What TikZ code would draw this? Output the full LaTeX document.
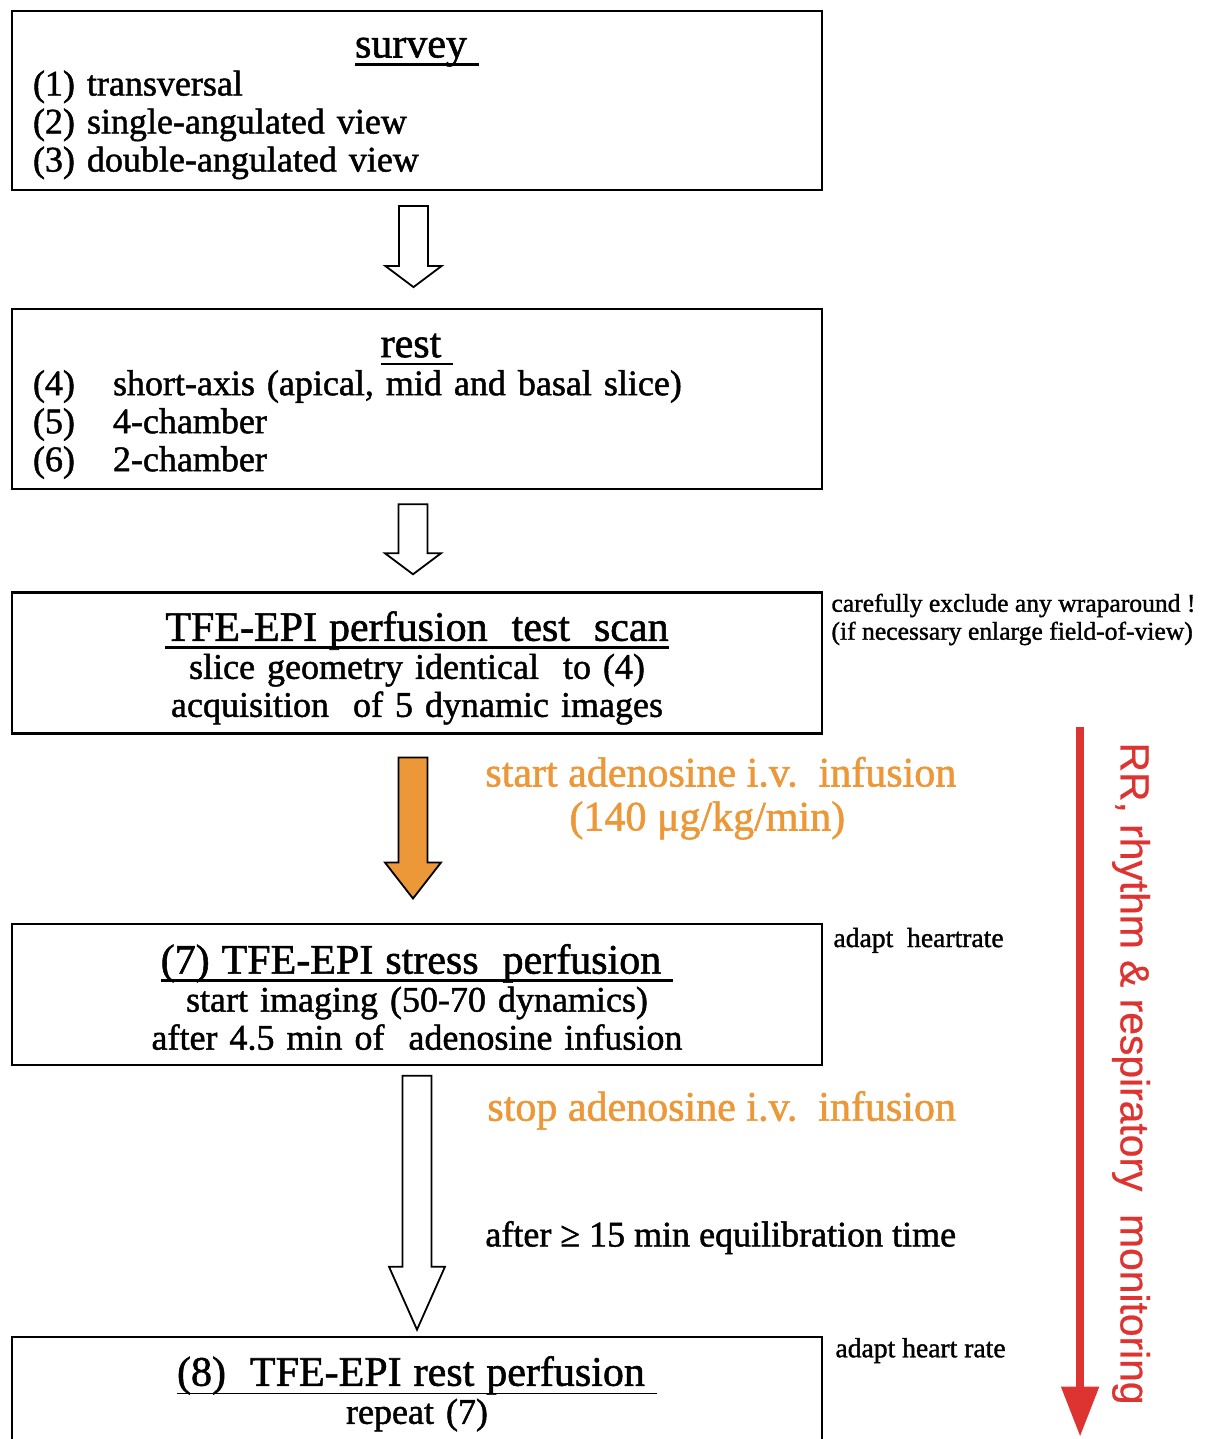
\documentclass[tikz,border=0pt]{standalone}
\usepackage{fontspec}
\setmainfont{Liberation Serif}[FakeBold=1.3]
\newfontfamily\monfont{Liberation Sans}[FakeBold=0.6]
\usetikzlibrary{positioning,calc,arrows.meta}
\definecolor{adenorange}{RGB}{236,152,56}
\definecolor{monred}{RGB}{221,52,50}

\newcommand{\titlefont}{\fontsize{21}{23}\selectfont}
\newcommand{\bodyfont}{\fontsize{18}{19}\selectfont}
% underline that runs just below the baseline
\newsavebox\titlebox
\newcommand{\titleline}[2][1.3pt]{\sbox\titlebox{#2}\rlap{\rule[-4pt]{\wd\titlebox}{#1}}\usebox\titlebox}
% hollow (or filled) block arrow: start, tip, head length, fill
\newcommand{\blockarrow}[4]{%
  \draw[line width=0.9pt, fill=#4] let \p1=(#1), \p2=(#2) in
    (\x1-7.25pt,\y1) -- (\x1+7.25pt,\y1) -- (\x1+7.25pt,\y2+#3) -- (\x1+14pt,\y2+#3)
    -- (\x1,\y2) -- (\x1-14pt,\y2+#3) -- (\x1-7.25pt,\y2+#3) -- cycle;}

\begin{document}
\begin{tikzpicture}
    \tikzstyle{stepbox} = [rectangle, draw, line width=1.1pt, text width=384pt, inner xsep=10.5pt, inner ysep=2pt, font=\bodyfont]
    \tikzstyle{note} = [anchor=north west, inner sep=0pt, align=left, font=\fontsize{12.8}{14}\selectfont]
    \tikzstyle{orangelabel} = [anchor=north west, inner sep=0pt, align=center, text=adenorange, font=\fontsize{21}{22}\selectfont]
    \tikzstyle{monitor} = [line width=4pt, draw=monred, -{Triangle[width=18pt,length=25pt]}]

    \useasboundingbox (-208.5pt,50.25pt) rectangle (395.5pt,-669.25pt);

    \node[stepbox, minimum height=89.5pt] (survey) at (0,0) {{\titlefont\centering\titleline{survey\ }\par}\raggedright (1) transversal\\(2) single-angulated view\\(3) double-angulated view\par\kern-8pt};
    \node[stepbox, minimum height=90pt, below=58.5pt of survey] (rest) {{\titlefont\centering\titleline{rest\ }\par}\raggedright \makebox[40pt][l]{(4)}short-axis (apical, mid and basal slice)\\\makebox[40pt][l]{(5)}4-chamber\\\makebox[40pt][l]{(6)}2-chamber\par\kern-7pt};
    \node[stepbox, minimum height=70.5pt, align=center, below=50.5pt of rest] (test) {{\titlefont\titleline{TFE-EPI perfusion\ \ test\ \ scan}\par}slice geometry identical\ \ to (4)\\acquisition\ \ of 5 dynamic images\par\kern-5pt};
    \node[stepbox, minimum height=70.5pt, align=center, below=94pt of test] (stress) {{\titlefont\titleline{(7) TFE-EPI stress\ \ perfusion\ }\par}start imaging (50-70 dynamics)\\after 4.5 min of\ \ adenosine infusion\par\kern-3pt};
    \node[stepbox, minimum height=54pt, align=center, below=135pt of stress] (final) {{\titlefont\titleline[0.5pt]{(8)\ \ TFE-EPI rest perfusion\ }\par}repeat (7)\par\kern-3pt};

    \node[note] (wrapnote) at ([xshift=4pt,yshift=-1pt]test.north east) {carefully exclude any wraparound !\\(if necessary enlarge field-of-view)};
    \node[note, font=\fontsize{13.8}{15}\selectfont] (hrnote1) at ([xshift=5pt,yshift=-2.5pt]stress.north east) {adapt\ \ heartrate};
    \node[note, font=\fontsize{13.8}{15}\selectfont] (hrnote2) at ([xshift=6pt,yshift=-1pt]final.north east) {adapt heart rate};

    \node[orangelabel] (startinf) at ([xshift=34pt,yshift=-11pt]test.south) {start adenosine i.v.\ \ infusion};
    \node[orangelabel, anchor=base] (dose) at ([xshift=-6.75pt,yshift=-22pt]startinf.base) {(140 μg/kg/min)};
    \node[orangelabel] (stopinf) at ([xshift=35pt,yshift=-12.5pt]stress.south) {stop adenosine i.v.\ \ infusion};
    \node[note, font=\bodyfont] (equil) at ([xshift=34pt,yshift=-77.5pt]stress.south) {after ≥ 15 min equilibration time};

    \coordinate (a1top) at ([xshift=-1.75pt,yshift=-7.5pt]survey.south);
    \coordinate (a1tip) at ([xshift=-1.75pt,yshift=10.5pt]rest.north);
    \coordinate (a2top) at ([xshift=-2pt,yshift=-7pt]rest.south);
    \coordinate (a2tip) at ([xshift=-2pt,yshift=8.5pt]test.north);
    \coordinate (a3top) at ([xshift=-2pt,yshift=-11.5pt]test.south);
    \coordinate (a3tip) at ([xshift=-2pt,yshift=12pt]stress.north);
    \coordinate (a4top) at ([yshift=-5pt]stress.south);
    \coordinate (a4tip) at ([yshift=3pt]final.north);
    \blockarrow{a1top}{a1tip}{10.5pt}{white}
    \blockarrow{a2top}{a2tip}{10.5pt}{white}
    \blockarrow{a3top}{a3tip}{18pt}{adenorange}
    \blockarrow{a4top}{a4tip}{31.5pt}{white}

    \coordinate (montop) at ([xshift=128.5pt,yshift=4pt]test.south east);
    \coordinate (monbot) at ([xshift=128.5pt,yshift=-50.5pt]final.north east);
    \draw[monitor] (montop) -- (monbot);
    \node[rotate=-90, text=monred, font=\monfont\fontsize{20.4}{22}\selectfont] (montext) at ($(montop)!0.5!(monbot)+(25.5pt,4pt)$) {RR, rhythm \& respiratory\ \ monitoring};
\end{tikzpicture}
\end{document}
